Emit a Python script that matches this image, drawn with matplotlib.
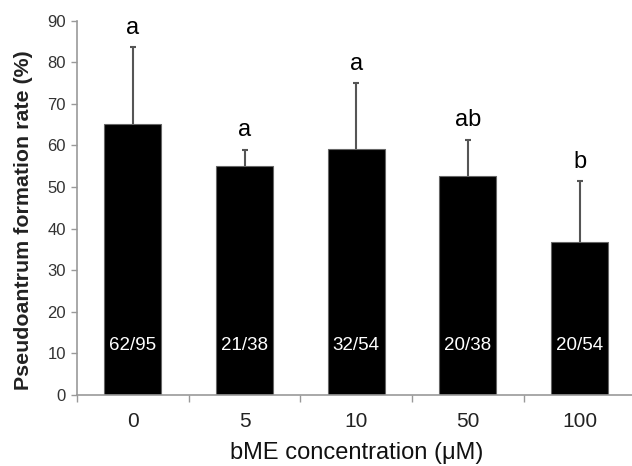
# Pseudoantrum formation rate vs bME concentration
from matplotlib import pyplot as plt
import numpy as np

conc_labels = ["0", "5", "10", "50", "100"]
rate_pct = [65.1, 55.1, 59.2, 52.6, 36.8]
err_pct = [18.5, 3.9, 15.7, 8.8, 14.6]
sig_letters = ["a", "a", "a", "ab", "b"]
counts = ["62/95", "21/38", "32/54", "20/38", "20/54"]

plt.rcParams["font.family"] = ["Liberation Sans", "DejaVu Sans"]

fig = plt.figure(figsize=(6.32, 4.66), dpi=100)
# axes runs slightly past the right edge, as in the source image
ax = fig.add_axes([77 / 632, 71 / 466, 558.5 / 632, 374.3 / 466])

x = np.arange(len(conc_labels))
ax.bar(x, rate_pct, width=0.51, color="black", edgecolor="#666666", linewidth=0.8, zorder=2)
# error bars sit behind the bars so only the upper half shows
ax.errorbar(x, rate_pct, yerr=err_pct, fmt="none",
            ecolor="#555555", elinewidth=1.5, capsize=2.5, capthick=1.5, zorder=1)

# significance letters above the error bars
for xi, v, e, lbl in zip(x, rate_pct, err_pct, sig_letters):
    ax.text(xi, v + e + 2.0, lbl, ha="center", va="bottom", fontsize=17, color="black")

# n counts inside the bars
for xi, c in zip(x, counts):
    ax.text(xi, 11.8, c, ha="center", va="center", fontsize=13.5, color="white")

ax.set_xlim(-0.5, len(conc_labels) - 0.5)
ax.set_ylim(0, 90)
ax.set_yticks(range(0, 91, 10))
ax.set_xticks(x)
ax.set_xticklabels(conc_labels, fontsize=15, color="#222222")
ax.set_xticks(np.arange(-0.5, len(conc_labels), 1.0), minor=True)
ax.tick_params(axis="x", which="major", length=0, pad=12)
ax.tick_params(axis="x", which="minor", length=5, color="#999999", width=1)
ax.tick_params(axis="y", length=4, color="#999999", width=1, labelsize=12, labelcolor="#333333", pad=4)

for side in ["top", "right"]:
    ax.spines[side].set_visible(False)
for side in ["left", "bottom"]:
    ax.spines[side].set_color("#999999")
    ax.spines[side].set_linewidth(1.2)

ax.set_xlabel("bME concentration (\u03bcM)", fontsize=17, color="#111111", labelpad=8)
ax.set_ylabel("Pseudoantrum formation rate (%)", fontsize=15.4, fontweight="bold",
              color="#222222")
ax.yaxis.set_label_coords(-0.079, 0.468)

fig.savefig("out.png", dpi=100)
plt.close()
